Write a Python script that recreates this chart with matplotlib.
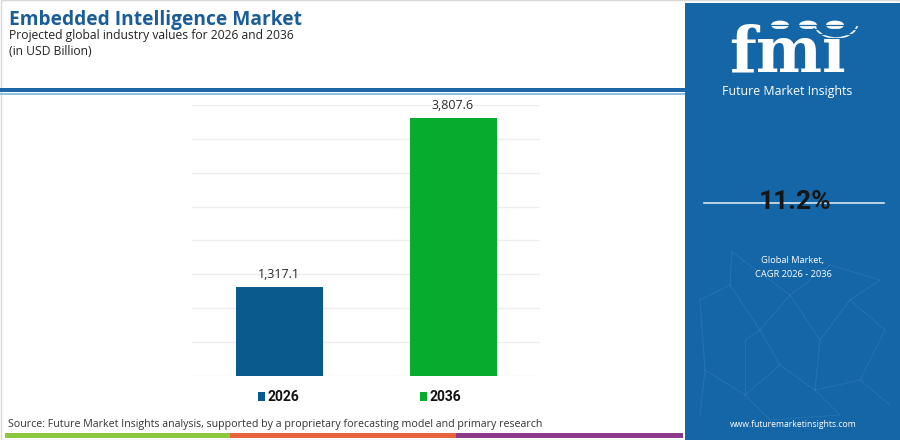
import matplotlib
matplotlib.use("Agg")
import matplotlib.pyplot as plt
from matplotlib.patches import Rectangle, Circle, Arc
from matplotlib.lines import Line2D

years = ["2026", "2036"]
values = [1317.1, 3807.6]
value_labels = ["1,317.1", "3,807.6"]
bar_colors = ["#0b5a8e", "#07ab2e"]
cagr = "11.2%"
title = "Embedded Intelligence Market"
subtitle = "Projected global industry values for 2026 and 2036"
unit = "(in USD Billion)"
source = "Source: Future Market Insights analysis, supported by a proprietary forecasting model and primary research"

W, H = 900, 440
fig = plt.figure(figsize=(9, 4.4), dpi=100)
fig.patch.set_facecolor("white")

def fx(x): return x / W
def fy(y): return 1 - y / H

# outer light border
fig.add_artist(Rectangle((fx(0.5), fy(439.5)), fx(899), 1 - 1/H, transform=fig.transFigure,
                         fill=False, edgecolor="#d8d8d8", lw=1))

# header separator line
fig.add_artist(Rectangle((0, fy(92.5)), fx(685), 4/H, transform=fig.transFigure,
                         facecolor="#1b67a8", edgecolor="none"))
fig.add_artist(Rectangle((0, fy(94.5)), fx(685), 1.5/H, transform=fig.transFigure,
                         facecolor="#8fc0e6", edgecolor="none"))

# title texts
fig.text(fx(9), fy(25), title, fontsize=13.8, fontweight="bold", color="#1a5d98",
         family="Open Sans", va="baseline", ha="left")
fig.text(fx(9), fy(38.5), subtitle, fontsize=8.7, color="#222222", family="Open Sans",
         va="baseline", ha="left")
fig.text(fx(9), fy(55), unit, fontsize=8.7, color="#222222", family="Open Sans",
         va="baseline", ha="left")

# chart axes
ax = fig.add_axes([fx(192), fy(376), fx(540 - 192), (376 - 105) / H])
x = list(range(len(years)))
bars = ax.bar(x, values, width=0.5, color=bar_colors, zorder=3)
ax.set_xlim(-0.5, 1.5)
ax.set_ylim(0, 4000)
ax.set_yticks([i * 500 for i in range(9)])
ax.yaxis.grid(True, color="#eeeeee", lw=1, zorder=0)
ax.set_xticks([])
ax.tick_params(left=False, labelleft=False)
for s in ax.spines.values():
    s.set_visible(False)
for xi, v, lab in zip(x, values, value_labels):
    ax.annotate(lab, (xi, v), xytext=(0, 6.5), textcoords="offset points", ha="center",
                va="baseline", fontsize=9, color="#2a2a2a", family="Open Sans")

# legend
for xs, yr, c in [(258, years[0], bar_colors[0]), (420, years[1], bar_colors[1])]:
    fig.add_artist(Rectangle((fx(xs), fy(401)), fx(7), 9/H, transform=fig.transFigure,
                             facecolor=c, edgecolor="none"))
    fig.text(fx(xs + 9), fy(400.5), yr, fontsize=10, fontweight="bold", color="#111111",
             va="baseline", ha="left", family="Roboto")

# source
fig.text(fx(8), fy(427), source, fontsize=7.7, color="#333333", family="Open Sans",
         va="baseline", ha="left")

# bottom color strip
for x0, x1, c in [(5, 230, "#8dc63f"), (230, 456, "#e8643c"), (456, 683, "#8e3a8c")]:
    fig.add_artist(Rectangle((fx(x0), fy(438)), fx(x1 - x0), 5/H, transform=fig.transFigure,
                             facecolor=c, edgecolor="none"))

# right panel
panel_c = "#1566a7"
fig.add_artist(Rectangle((fx(685), 0), fx(215), fy(3), transform=fig.transFigure,
                         facecolor=panel_c, edgecolor="none"))

# faint network decoration
net_pts = [(700, 300), (730, 285), (760, 330), (790, 295), (820, 340), (850, 300), (885, 330),
           (705, 370), (745, 395), (780, 365), (815, 390), (860, 380), (732, 252), (880, 280),
           (700, 415), (770, 420), (840, 415), (890, 405), (745, 340), (830, 265)]
edges = [(0, 1), (1, 2), (2, 3), (3, 4), (4, 5), (5, 6), (0, 7), (7, 8), (8, 9), (9, 10),
         (10, 11), (2, 9), (4, 10), (12, 1), (13, 5), (6, 11), (3, 12), (7, 14), (8, 15),
         (10, 16), (11, 17), (2, 18), (18, 8), (19, 3), (19, 13), (15, 16)]
for a, b in edges:
    fig.add_artist(Line2D([fx(net_pts[a][0]), fx(net_pts[b][0])],
                          [fy(net_pts[a][1]), fy(net_pts[b][1])],
                          transform=fig.transFigure, color="#4d8ec6", lw=0.6, alpha=0.35))

# logo
fig.text(fx(787.5), fy(71.5), "fm\u0131", fontsize=45, fontweight="bold", color="white",
         family="DejaVu Serif", ha="center", va="baseline")
for i in range(12):
    yy = 25 + i * 4.3
    fig.add_artist(Line2D([fx(712), fx(862)], [fy(yy), fy(yy)], transform=fig.transFigure,
                          color=panel_c, lw=0.9))
for cx in (780, 808, 835):
    fig.add_artist(Circle((fx(cx), fy(25)), 9/W, transform=fig.transFigure,
                          facecolor="white", edgecolor="none"))
fig.add_artist(Arc((fx(836), fy(22)), 44/W, 32/H, theta1=200, theta2=340,
                   transform=fig.transFigure, color="white", lw=1.2))
fig.text(fx(787.5), fy(95.5), "Future Market Insights", fontsize=8.9, color="white",
         family="Open Sans", ha="center", va="baseline")

# CAGR
fig.add_artist(Line2D([fx(704), fx(884)], [fy(203), fy(203)], transform=fig.transFigure,
                      color="#d5e6f5", lw=1.2))
fig.text(fx(795), fy(209), cagr, fontsize=19, fontweight="bold", color="#151515",
         family="Roboto", ha="center", va="baseline")
fig.text(fx(793), fy(263.5), "Global Market,", fontsize=6.7, color="white",
         family="Open Sans", ha="center", va="baseline")
fig.text(fx(793.5), fy(277), "CAGR 2026 - 2036", fontsize=6.7, color="white",
         family="Open Sans", ha="center", va="baseline")
fig.text(fx(793), fy(427), "www.futuremarketinsights.com", fontsize=6.2, color="white",
         family="Open Sans", ha="center", va="baseline")

fig.savefig("out.png", dpi=100)
